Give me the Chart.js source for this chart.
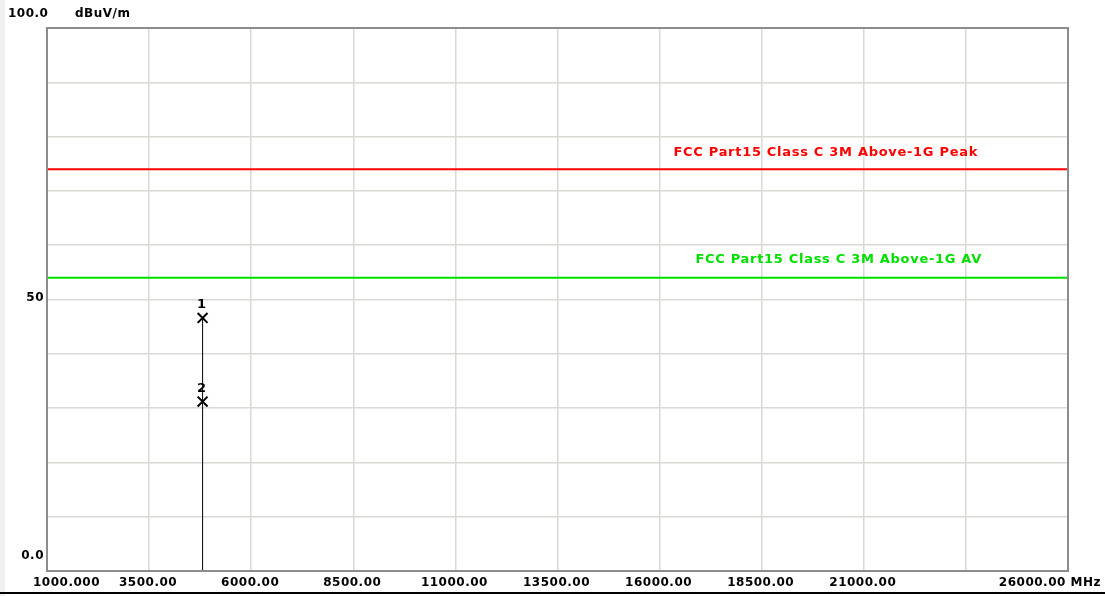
<!DOCTYPE html>
<html>
<head>
<meta charset="utf-8">
<script src="https://cdn.jsdelivr.net/npm/chart.js@4"></script>
<style>
  body{margin:0;background:#fff;}
</style>
</head>
<body>
<canvas id="grafico" width="1105" height="596"></canvas>
<script>
// dados
var freqMarcador = [4810, 4810];
var nivelMarcador = [46.6, 31.2];
var nomeMarcador = ["1", "2"];
var limitePeak = 74;
var limiteAV = 54;
var nomePeak = "FCC Part15 Class C 3M Above-1G Peak";
var nomeAV = "FCC Part15 Class C 3M Above-1G AV";
var xMin = 1000, xMax = 26000;
var yMin = 0, yMax = 100;
var xTicks = [1000,3500,6000,8500,11000,13500,16000,18500,21000,26000];
var xTicksTexto = ["1000.000","3500.00","6000.00","8500.00","11000.00","13500.00","16000.00","18500.00","21000.00","26000.00 MHz"];
var yTicks = [100, 50, 0];
var yTicksTexto = ["100.0", "50", "0.0"];
var unidadeY = "dBuV/m";

var fonte = 'bold 12px "DejaVu Sans", sans-serif';
var fonteLimite = 'bold 13px "DejaVu Sans", sans-serif';

// fundo, moldura e textos
var desenhos = {
  id: 'desenhos',
  beforeDraw: function(chart){
    var c = chart.ctx;
    c.save();
    c.fillStyle = '#fff';
    c.fillRect(0, 0, chart.width, chart.height);
    c.fillStyle = '#f0f0f0';
    c.fillRect(0, 0, 5, chart.height);
    c.fillStyle = '#000';
    c.fillRect(0, 592, chart.width, 2);
    c.restore();
  },
  afterDraw: function(chart){
    var c = chart.ctx, a = chart.chartArea;
    var sx = chart.scales.x, sy = chart.scales.y;
    c.save();
    c.strokeStyle = '#8c8c8c';
    c.lineWidth = 2;
    c.strokeRect(a.left, a.top, a.right - a.left, a.bottom - a.top);

    c.font = fonte;
    c.letterSpacing = '0.5px';
    c.fillStyle = '#000';
    c.textBaseline = 'middle';
    // eixo y
    yTicks.forEach(function(v, i){
      var y = sy.getPixelForValue(v);
      if (i == 0) { c.textAlign = 'left'; c.fillText(yTicksTexto[i], 8, y - 14); }
      else { c.textAlign = 'right'; c.fillText(yTicksTexto[i], 44, y - 2 - (v == 0 ? 13 : 0)); }
    });
    c.textAlign = 'left';
    c.fillText(unidadeY, 75, sy.getPixelForValue(yMax) - 14);
    // eixo x
    xTicks.forEach(function(v, i){
      var x = sx.getPixelForValue(v);
      if (i == 0) { c.textAlign = 'left'; c.fillText(xTicksTexto[i], 33, 583); }
      else if (i == xTicks.length - 1) { c.textAlign = 'right'; c.fillText(xTicksTexto[i], 1101, 583); }
      else { c.textAlign = 'center'; c.fillText(xTicksTexto[i], x - 1, 583); }
    });
    // nomes dos limites
    c.font = fonteLimite;
    c.letterSpacing = '0.7px';
    c.textAlign = 'right';
    c.fillStyle = '#ff0000';
    c.fillText(nomePeak, 978, sy.getPixelForValue(limitePeak) - 17);
    c.fillStyle = '#00e000';
    c.fillText(nomeAV, 982, sy.getPixelForValue(limiteAV) - 18);
    // numeros dos marcadores
    c.letterSpacing = '0px';
    c.fillStyle = '#000';
    c.textAlign = 'center';
    freqMarcador.forEach(function(f, i){
      c.fillText(nomeMarcador[i], sx.getPixelForValue(f) - 1, sy.getPixelForValue(nivelMarcador[i]) - 13);
    });
    c.restore();
  }
};

var ctx = document.getElementById('grafico');
var chartGraph = new Chart(ctx, {
  type: 'scatter',
  data: {
    datasets: [
      {
        label: 'Peak',
        data: [{x: xMin, y: limitePeak}, {x: xMax, y: limitePeak}],
        showLine: true,
        borderColor: '#ff0000',
        borderWidth: 2,
        pointRadius: 0
      },
      {
        label: 'AV',
        data: [{x: xMin, y: limiteAV}, {x: xMax, y: limiteAV}],
        showLine: true,
        borderColor: '#00e000',
        borderWidth: 2,
        pointRadius: 0
      },
      {
        label: 'linha',
        data: [{x: freqMarcador[0], y: 0}, {x: freqMarcador[0], y: Math.max.apply(null, nivelMarcador)}],
        showLine: true,
        borderColor: '#000',
        borderWidth: 1,
        pointRadius: 0
      },
      {
        label: 'marcadores',
        data: freqMarcador.map(function(f, i){ return {x: f, y: nivelMarcador[i]}; }),
        showLine: false,
        pointStyle: 'crossRot',
        pointRadius: 7,
        borderColor: '#000',
        borderWidth: 2
      }
    ]
  },
  options: {
    responsive: false,
    animation: false,
    layout: { padding: { left: 47, top: 28, right: 37, bottom: 25 } },
    plugins: { legend: { display: false }, tooltip: { enabled: false } },
    scales: {
      x: {
        type: 'linear', min: xMin, max: xMax,
        afterBuildTicks: function(s){ s.ticks = []; for (var v = xMin; v <= xMax; v += 2500) s.ticks.push({value: v}); },
        ticks: { display: false },
        grid: { color: '#dcd8d4', lineWidth: 1.5, drawTicks: false },
        border: { display: false }
      },
      y: {
        min: yMin, max: yMax,
        ticks: { display: false, stepSize: 10 },
        grid: { color: '#dcd8d4', lineWidth: 1.5, drawTicks: false },
        border: { display: false }
      }
    }
  },
  plugins: [desenhos]
});
</script>
</body>
</html>
